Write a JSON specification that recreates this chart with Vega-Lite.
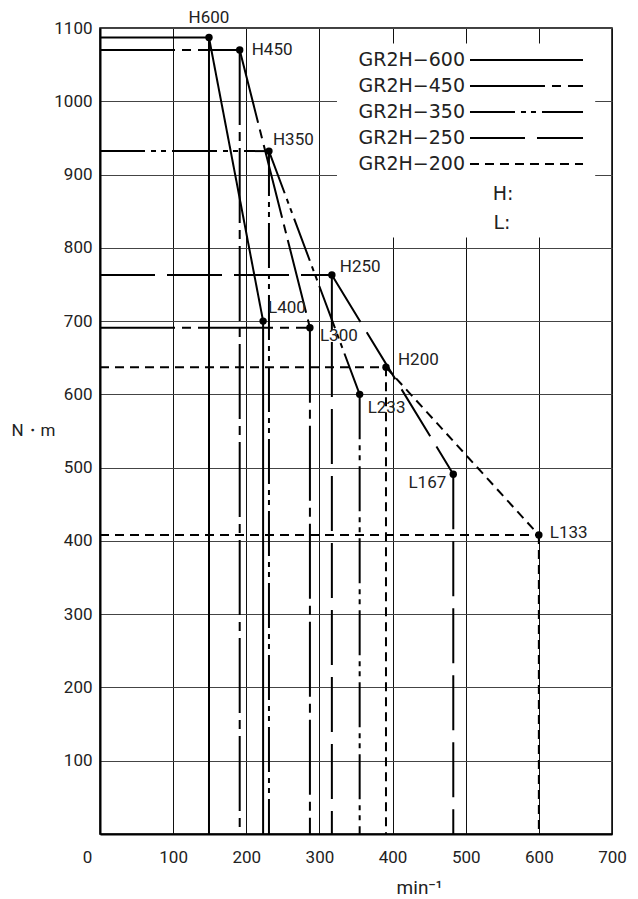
{
  "$schema": "https://vega.github.io/schema/vega-lite/v6.json",
  "width": 512,
  "height": 806,
  "autosize": {"type": "none"},
  "padding": {"left": 100, "top": 28, "right": 26, "bottom": 65},
  "background": "white",
  "config": {
    "view": {"stroke": "#000", "strokeWidth": 1.5},
    "font": "Roboto"
  },
  "datasets": {
    "segments": [
      {"series": "GR2H−600", "x": 0, "y": 1087, "x2": 149, "y2": 1087},
      {"series": "GR2H−600", "x": 149, "y": 1087, "x2": 149, "y2": 0},
      {"series": "GR2H−600", "x": 149, "y": 1087, "x2": 223, "y2": 700},
      {"series": "GR2H−600", "x": 223, "y": 700, "x2": 223, "y2": 0},
      {"series": "GR2H−450", "x": 0, "y": 1070, "x2": 191, "y2": 1070},
      {"series": "GR2H−450", "x": 191, "y": 1070, "x2": 191, "y2": 0},
      {"series": "GR2H−450", "x": 191, "y": 1070, "x2": 287, "y2": 691},
      {"series": "GR2H−450", "x": 0, "y": 691, "x2": 287, "y2": 691},
      {"series": "GR2H−450", "x": 287, "y": 691, "x2": 287, "y2": 0},
      {"series": "GR2H−350", "x": 0, "y": 932, "x2": 231, "y2": 932},
      {"series": "GR2H−350", "x": 231, "y": 932, "x2": 231, "y2": 0},
      {"series": "GR2H−350", "x": 231, "y": 932, "x2": 355, "y2": 600},
      {"series": "GR2H−350", "x": 355, "y": 600, "x2": 355, "y2": 0},
      {"series": "GR2H−250", "x": 0, "y": 763, "x2": 317, "y2": 763},
      {"series": "GR2H−250", "x": 317, "y": 763, "x2": 317, "y2": 0},
      {"series": "GR2H−250", "x": 317, "y": 763, "x2": 483, "y2": 491},
      {"series": "GR2H−250", "x": 483, "y": 491, "x2": 483, "y2": 0},
      {"series": "GR2H−200", "x": 0, "y": 637, "x2": 391, "y2": 637},
      {"series": "GR2H−200", "x": 391, "y": 637, "x2": 391, "y2": 0},
      {"series": "GR2H−200", "x": 391, "y": 637, "x2": 600, "y2": 408},
      {"series": "GR2H−200", "x": 0, "y": 408, "x2": 600, "y2": 408},
      {"series": "GR2H−200", "x": 600, "y": 408, "x2": 600, "y2": 0}
    ],
    "points": [
      {"label": "H600", "x": 149, "y": 1087},
      {"label": "L400", "x": 223, "y": 700},
      {"label": "H450", "x": 191, "y": 1070},
      {"label": "L300", "x": 287, "y": 691},
      {"label": "H350", "x": 231, "y": 932},
      {"label": "L233", "x": 355, "y": 600},
      {"label": "H250", "x": 317, "y": 763},
      {"label": "L167", "x": 483, "y": 491},
      {"label": "H200", "x": 391, "y": 637},
      {"label": "L133", "x": 600, "y": 408}
    ]
  },
  "layer": [
    {
      "data": {"name": "segments"},
      "mark": {"type": "rule", "strokeWidth": 2, "color": "#000"},
      "encoding": {
        "x": {
          "field": "x", "type": "quantitative",
          "scale": {"domain": [0, 700], "nice": false, "zero": false},
          "axis": {
            "title": "min⁻¹", "format": "d", "zindex": 0,
            "values": [0, 100, 200, 300, 400, 500, 600, 700],
            "grid": true, "gridColor": "#111", "gridWidth": 1,
            "domain": true, "domainColor": "#000", "domainWidth": 2,
            "ticks": false, "tickSize": 0,
            "labelPadding": 15, "labelFont": "Roboto", "labelFontSize": 17, "labelColor": "#222",
            "labelFlush": false, "labelOverlap": false,
            "labelOffset": {"condition": {"test": "datum.value === 0", "value": -13}, "value": 0},
            "titleFont": "Roboto", "titleFontSize": 19, "titleFontWeight": "normal", "titleColor": "#222",
            "titleX": 319, "titleY": 53, "titleAlign": "center", "titleBaseline": "middle"
          }
        },
        "y": {
          "field": "y", "type": "quantitative",
          "scale": {"domain": [0, 1100], "nice": false, "zero": false},
          "axis": {
            "title": "N・m", "format": "d", "zindex": 0,
            "values": [0, 100, 200, 300, 400, 500, 600, 700, 800, 900, 1000, 1100],
            "labelExpr": "datum.value === 0 ? '' : datum.label",
            "grid": true, "gridColor": "#444", "gridWidth": 1,
            "domain": true, "domainColor": "#000", "domainWidth": 2,
            "ticks": false, "tickSize": 0,
            "labelPadding": 8, "labelFont": "Roboto", "labelFontSize": 17, "labelColor": "#222",
            "labelFlush": false, "labelOverlap": false,
            "titleFont": "Roboto", "titleFontSize": 17, "titleFontWeight": "normal", "titleColor": "#222",
            "titleAngle": 0, "titleX": -67, "titleY": 402, "titleAlign": "center", "titleBaseline": "middle"
          }
        },
        "x2": {"field": "x2"},
        "y2": {"field": "y2"},
        "strokeDash": {
          "field": "series", "type": "nominal",
          "scale": {
            "domain": ["GR2H−600", "GR2H−450", "GR2H−350", "GR2H−250", "GR2H−200"],
            "range": [[1, 0], [75, 7, 9, 7], [45, 6, 5, 5, 5, 6], [55, 12], [9, 6]]
          },
          "legend": {
            "orient": "none", "direction": "vertical",
            "legendX": 358, "legendY": 19.5,
            "title": null, "padding": 0,
            "symbolType": "M-5,0H5", "symbolSize": 511, "symbolStrokeWidth": 2, "symbolStrokeColor": "#000",
            "symbolOffset": 56, "labelOffset": -74, "labelAlign": "right",
            "labelFont": "DejaVu Sans", "labelFontSize": 19, "labelColor": "#222", "labelLimit": 300,
            "rowPadding": 3
          }
        }
      }
    },
    {
      "data": {"values": [{}]},
      "mark": {"type": "rect", "color": "white", "opacity": 1},
      "encoding": {
        "x": {"datum": 324, "type": "quantitative"},
        "x2": {"datum": 677},
        "y": {"datum": 1079, "type": "quantitative"},
        "y2": {"datum": 814}
      }
    },
    {
      "data": {"values": [{}]},
      "mark": {"type": "text", "font": "DejaVu Sans", "fontSize": 19, "color": "#222", "align": "left", "baseline": "middle", "text": "H:"},
      "encoding": {"x": {"datum": 537, "type": "quantitative"}, "y": {"datum": 874, "type": "quantitative"}}
    },
    {
      "data": {"values": [{}]},
      "mark": {"type": "text", "font": "DejaVu Sans", "fontSize": 19, "color": "#222", "align": "left", "baseline": "middle", "text": "L:"},
      "encoding": {"x": {"datum": 538, "type": "quantitative"}, "y": {"datum": 834, "type": "quantitative"}}
    },
    {
      "data": {"name": "points"},
      "mark": {"type": "circle", "size": 55, "color": "#000", "opacity": 1},
      "encoding": {"x": {"field": "x", "type": "quantitative"}, "y": {"field": "y", "type": "quantitative"}}
    },
    {
      "data": {"name": "points"},
      "transform": [{"filter": "datum.label === 'H600'"}],
      "mark": {"type": "text", "font": "Roboto", "fontSize": 17, "color": "#222", "align": "center", "baseline": "alphabetic", "dx": 0, "dy": -15},
      "encoding": {"x": {"field": "x", "type": "quantitative"}, "y": {"field": "y", "type": "quantitative"}, "text": {"field": "label"}}
    },
    {
      "data": {"name": "points"},
      "transform": [{"filter": "datum.label === 'H450'"}],
      "mark": {"type": "text", "font": "Roboto", "fontSize": 17, "color": "#222", "align": "left", "baseline": "alphabetic", "dx": 12, "dy": 5},
      "encoding": {"x": {"field": "x", "type": "quantitative"}, "y": {"field": "y", "type": "quantitative"}, "text": {"field": "label"}}
    },
    {
      "data": {"name": "points"},
      "transform": [{"filter": "datum.label === 'H350'"}],
      "mark": {"type": "text", "font": "Roboto", "fontSize": 17, "color": "#222", "align": "left", "baseline": "alphabetic", "dx": 4, "dy": -6},
      "encoding": {"x": {"field": "x", "type": "quantitative"}, "y": {"field": "y", "type": "quantitative"}, "text": {"field": "label"}}
    },
    {
      "data": {"name": "points"},
      "transform": [{"filter": "datum.label === 'L400'"}],
      "mark": {"type": "text", "font": "Roboto", "fontSize": 17, "color": "#222", "align": "left", "baseline": "alphabetic", "dx": 5, "dy": -8},
      "encoding": {"x": {"field": "x", "type": "quantitative"}, "y": {"field": "y", "type": "quantitative"}, "text": {"field": "label"}}
    },
    {
      "data": {"name": "points"},
      "transform": [{"filter": "datum.label === 'L300'"}],
      "mark": {"type": "text", "font": "Roboto", "fontSize": 17, "color": "#222", "align": "left", "baseline": "alphabetic", "dx": 10, "dy": 13},
      "encoding": {"x": {"field": "x", "type": "quantitative"}, "y": {"field": "y", "type": "quantitative"}, "text": {"field": "label"}}
    },
    {
      "data": {"name": "points"},
      "transform": [{"filter": "datum.label === 'H250'"}],
      "mark": {"type": "text", "font": "Roboto", "fontSize": 17, "color": "#222", "align": "left", "baseline": "alphabetic", "dx": 8, "dy": -3},
      "encoding": {"x": {"field": "x", "type": "quantitative"}, "y": {"field": "y", "type": "quantitative"}, "text": {"field": "label"}}
    },
    {
      "data": {"name": "points"},
      "transform": [{"filter": "datum.label === 'H200'"}],
      "mark": {"type": "text", "font": "Roboto", "fontSize": 17, "color": "#222", "align": "left", "baseline": "alphabetic", "dx": 12, "dy": -2},
      "encoding": {"x": {"field": "x", "type": "quantitative"}, "y": {"field": "y", "type": "quantitative"}, "text": {"field": "label"}}
    },
    {
      "data": {"name": "points"},
      "transform": [{"filter": "datum.label === 'L233'"}],
      "mark": {"type": "text", "font": "Roboto", "fontSize": 17, "color": "#222", "align": "left", "baseline": "alphabetic", "dx": 8, "dy": 19},
      "encoding": {"x": {"field": "x", "type": "quantitative"}, "y": {"field": "y", "type": "quantitative"}, "text": {"field": "label"}}
    },
    {
      "data": {"name": "points"},
      "transform": [{"filter": "datum.label === 'L167'"}],
      "mark": {"type": "text", "font": "Roboto", "fontSize": 17, "color": "#222", "align": "right", "baseline": "alphabetic", "dx": -7, "dy": 14},
      "encoding": {"x": {"field": "x", "type": "quantitative"}, "y": {"field": "y", "type": "quantitative"}, "text": {"field": "label"}}
    },
    {
      "data": {"name": "points"},
      "transform": [{"filter": "datum.label === 'L133'"}],
      "mark": {"type": "text", "font": "Roboto", "fontSize": 17, "color": "#222", "align": "left", "baseline": "alphabetic", "dx": 11, "dy": 3},
      "encoding": {"x": {"field": "x", "type": "quantitative"}, "y": {"field": "y", "type": "quantitative"}, "text": {"field": "label"}}
    }
  ]
}
